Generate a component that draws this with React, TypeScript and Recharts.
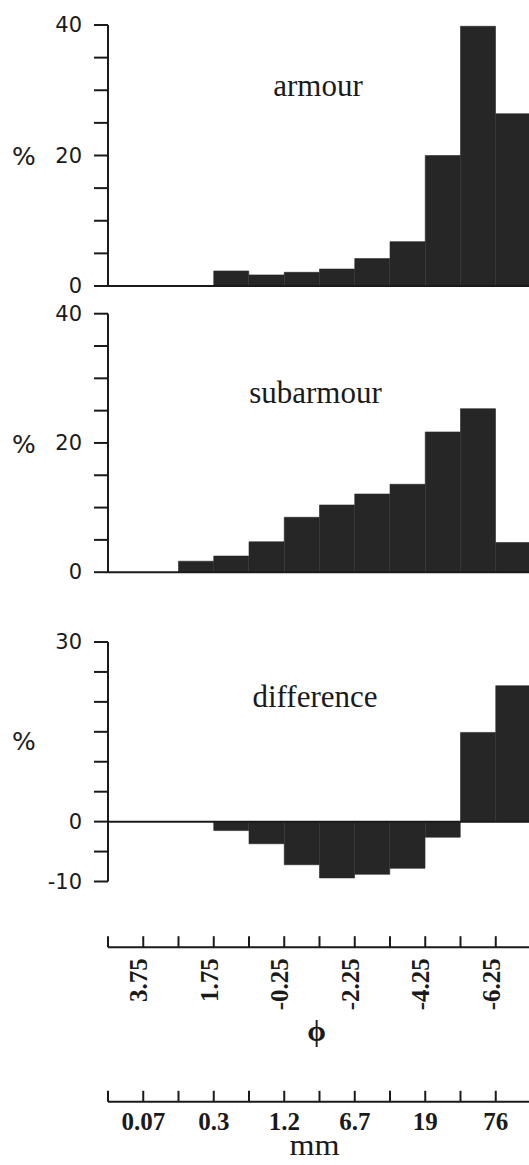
import React from "react";
import {
  BarChart,
  Bar,
  XAxis,
  YAxis,
  ReferenceLine,
  LineChart,
  Line,
} from "recharts";

// phi bins (centres)
const BINS = ["4.25", "3.25", "2.25", "1.25", "0.25", "-0.75", "-1.75", "-2.75", "-3.75", "-4.75", "-5.75", "-6.75"];
const ARMOUR = [0, 0, 0, 2.3, 1.7, 2.1, 2.6, 4.2, 6.8, 20.0, 39.8, 26.4];
const SUBARMOUR = [0, 0, 1.7, 2.5, 4.7, 8.5, 10.4, 12.1, 13.6, 21.7, 25.3, 4.6];
const DIFFERENCE = [0, 0, 0, -1.5, -3.7, -7.2, -9.4, -8.8, -7.8, -2.6, 14.9, 22.7];

const PCT_TICKS = [0, 5, 10, 15, 20, 25, 30, 35, 40];
const PCT_LABELS = [0, 20, 40];
const DIFF_TICKS = [-10, -5, 0, 5, 10, 15, 20, 25, 30];
const DIFF_LABELS = [-10, 0, 30];

const PHI_EDGES = [4.75, 3.75, 2.75, 1.75, 0.75, -0.25, -1.25, -2.25, -3.25, -4.25, -5.25, -6.25, -7.25];
const PHI_LABELS = ["3.75", "1.75", "-0.25", "-2.25", "-4.25", "-6.25"];
const MM_LABELS = ["0.07", "0.3", "1.2", "6.7", "19", "76"];

const INK = "#1a1a1a";
const BAR = "#262626";
const W = 531;
const SERIF = "'Liberation Serif', 'Times New Roman', serif";
const SANS = "'DejaVu Sans', sans-serif";

const yTick = (labels: number[]) => (props: any) => {
  const { x, y, payload } = props;
  if (!labels.includes(payload.value)) return <g />;
  return (
    <text x={x} y={y} textAnchor="end" dominantBaseline="central" fontFamily={SANS} fontSize={21} fill={INK}>
      {payload.value}
    </text>
  );
};

function Panel({ top, height, margin, values, domain, ticks, labels, title, titleX, titleY, pctY }: any) {
  const data = BINS.map((bin, i) => ({ bin, value: values[i] }));
  return (
    <div style={{ position: "absolute", left: 0, top }}>
      <BarChart width={W} height={height} data={data} margin={margin} barCategoryGap={0} barGap={0}>
        <XAxis dataKey="bin" hide />
        <YAxis
          type="number"
          domain={domain}
          ticks={ticks}
          interval={0}
          width={108}
          tickSize={14}
          tickMargin={12}
          axisLine={{ stroke: INK, strokeWidth: 2 }}
          tickLine={{ stroke: INK, strokeWidth: 2 }}
          tick={yTick(labels)}
        />
        <Bar dataKey="value" fill={BAR} stroke={BAR} strokeWidth={0.6} isAnimationActive={false} />
        <ReferenceLine y={0} stroke={INK} strokeWidth={2} />
        <text x={titleX} y={titleY} textAnchor="middle" fontFamily={SERIF} fontSize={31} fill={INK}>
          {title}
        </text>
        <text x={12} y={pctY} dominantBaseline="central" fontFamily={SANS} fontSize={25} fill={INK}>
          %
        </text>
      </BarChart>
    </div>
  );
}

const phiTick = (props: any) => {
  const { x, y, payload } = props;
  const key = Number(payload.value).toFixed(2);
  const show = PHI_LABELS.includes(key);
  return (
    <g>
      <line x1={x} y1={y} x2={x} y2={y - 11} stroke={INK} strokeWidth={2} />
      {show && (
        <text
          transform={`rotate(-90 ${x} ${y + 11})`}
          x={x}
          y={y + 11}
          dy={4}
          textAnchor="end"
          fontFamily={SERIF}
          fontWeight="bold"
          fontSize={25}
          fill={INK}
        >
          {key}
        </text>
      )}
    </g>
  );
};

const mmTick = (props: any) => {
  const { x, y, payload } = props;
  const idx = PHI_LABELS.indexOf(Number(payload.value).toFixed(2));
  return (
    <g>
      <line x1={x} y1={y} x2={x} y2={y - 11} stroke={INK} strokeWidth={2} />
      {idx >= 0 && (
        <text x={x} y={y + 28} textAnchor="middle" fontFamily={SERIF} fontWeight="bold" fontSize={25} fill={INK}>
          {MM_LABELS[idx]}
        </text>
      )}
    </g>
  );
};

function ScaleAxis({ top, height, axisY, tick, children }: any) {
  const data = PHI_EDGES.map((phi) => ({ phi, y: 0 }));
  return (
    <div style={{ position: "absolute", left: 0, top }}>
      <LineChart width={W} height={height} data={data} margin={{ top: 10, right: 0, left: 108, bottom: 0 }}>
        <XAxis
          dataKey="phi"
          type="number"
          domain={[-7.25, 4.75]}
          reversed
          ticks={PHI_EDGES}
          interval={0}
          height={height - axisY}
          tickLine={false}
          tickSize={0}
          tickMargin={0}
          axisLine={{ stroke: INK, strokeWidth: 2 }}
          tick={tick}
        />
        <YAxis hide />
        <Line dataKey="y" stroke="none" dot={false} isAnimationActive={false} />
        {children}
      </LineChart>
    </div>
  );
}

export default function App() {
  return (
    <div style={{ position: "absolute", left: 0, top: 0, width: 529, height: 1165, overflow: "hidden", background: "#fff" }}>
      <Panel
        top={0}
        height={300}
        margin={{ top: 25, right: 0, left: 0, bottom: 14 }}
        values={ARMOUR}
        domain={[0, 40]}
        ticks={PCT_TICKS}
        labels={PCT_LABELS}
        title="armour"
        titleX={318}
        titleY={96}
        pctY={156}
      />
      <Panel
        top={290}
        height={300}
        margin={{ top: 23.7, right: 0, left: 0, bottom: 17.8 }}
        values={SUBARMOUR}
        domain={[0, 40]}
        ticks={PCT_TICKS}
        labels={PCT_LABELS}
        title="subarmour"
        titleX={315.5}
        titleY={113}
        pctY={154}
      />
      <Panel
        top={600}
        height={300}
        margin={{ top: 42, right: 0, left: 0, bottom: 18.5 }}
        values={DIFFERENCE}
        domain={[-10, 30]}
        ticks={DIFF_TICKS}
        labels={DIFF_LABELS}
        title="difference"
        titleX={315}
        titleY={107}
        pctY={141}
      />
      <ScaleAxis top={900} height={160} axisY={47.2} tick={phiTick}>
        <text x={316.5} y={141} textAnchor="middle" fontFamily={SERIF} fontWeight="bold" fontSize={30} fill={INK}>
          ϕ
        </text>
      </ScaleAxis>
      <ScaleAxis top={1050} height={115} axisY={51.8} tick={mmTick}>
        <text x={314.6} y={105} textAnchor="middle" fontFamily={SERIF} fontSize={30} textLength={50} lengthAdjust="spacingAndGlyphs" fill={INK}>
          mm
        </text>
      </ScaleAxis>
    </div>
  );
}
